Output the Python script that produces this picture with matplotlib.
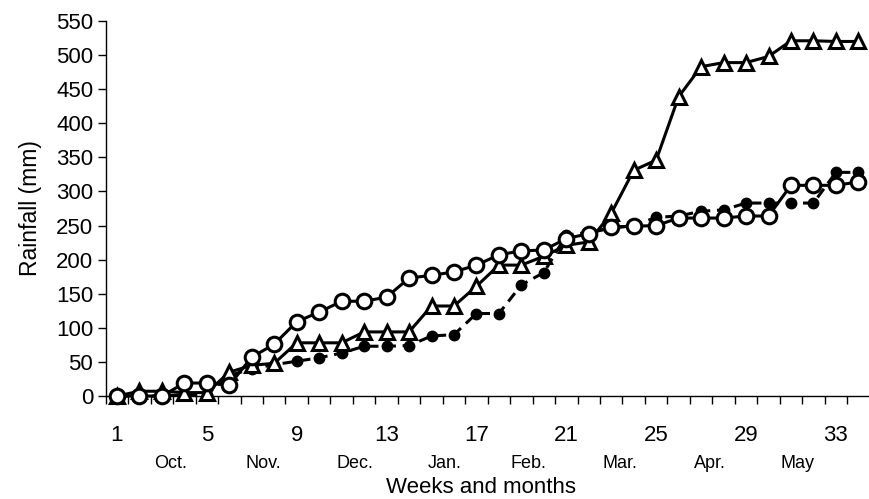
import numpy as np
import matplotlib
matplotlib.use("Agg")
from matplotlib import pyplot as plt

plt.rcParams['font.family'] = ['Liberation Sans', 'DejaVu Sans']

weeks = np.arange(1, 35)

# cumulative rainfall (mm)
circles = [0, 0, 0, 19, 19, 16, 57, 76, 109, 123, 139, 139, 145, 173, 177, 182, 192, 207,
           213, 214, 231, 238, 248, 249, 250, 261, 261, 261, 264, 264, 309, 309, 309, 314]
triangles = [0, 7, 7, 5, 5, 35, 45, 48, 78, 78, 78, 94, 94, 94, 132, 132, 161, 192,
             192, 205, 221, 226, 268, 331, 346, 439, 483, 489, 489, 498, 521, 521, 520, 520]
dots = [0, 0, 0, 2, 2, 30, 40, 46, 51, 56, 63, 73, 73, 74, 88, 90, 121, 121,
        163, 181, 236, 240, 246, 250, 262, 264, 271, 273, 283, 283, 283, 283, 328, 328]

week_labels = [1, 5, 9, 13, 17, 21, 25, 29, 33]
months = ['Oct.', 'Nov.', 'Dec.', 'Jan.', 'Feb.', 'Mar.', 'Apr.', 'May']
month_pos = [3.4, 7.5, 11.6, 15.6, 19.3, 23.4, 27.4, 31.3]

fig = plt.figure(figsize=(8.69, 4.99), dpi=100)
ax = fig.add_axes([0.1217, 0.2064, 0.879, 0.7515])

ax.plot(weeks, dots, color='black', lw=2.2, ls=(0, (3.5, 2.2)), marker='o', ms=7.5,
        mfc='black', mec='black', clip_on=False, zorder=3)
ax.plot(weeks, triangles, color='black', lw=2.2, marker='^', ms=10, mfc='white',
        mec='black', mew=2.2, clip_on=False, zorder=4)
ax.plot(weeks, circles, color='black', lw=2.2, marker='o', ms=10.5, mfc='white',
        mec='black', mew=2.2, clip_on=False, zorder=5)

ax.set_xlim(0.5, 34.5)
ax.set_ylim(0, 550)
ax.set_yticks(np.arange(0, 551, 50))
ax.tick_params(axis='y', direction='out', length=6, width=1, pad=3, labelsize=16)

# tick marks between weeks, labels every 4th week
ax.set_xticks(np.arange(0.5, 35, 1))
ax.set_xticklabels([])
ax.set_xticks(week_labels, minor=True)
ax.set_xticklabels([str(w) for w in week_labels], minor=True)
ax.tick_params(axis='x', which='major', direction='out', length=6, width=1)
ax.tick_params(axis='x', which='minor', length=0, pad=21, labelsize=16)

for m, p in zip(months, month_pos):
    ax.text(p, -0.18, m, transform=ax.get_xaxis_transform(), ha='center', va='center',
            fontsize=13)

ax.spines['top'].set_visible(False)
ax.spines['right'].set_visible(False)
ax.spines['left'].set_linewidth(1)
ax.spines['bottom'].set_linewidth(1)

ax.set_ylabel('Rainfall (mm)', fontsize=16.5, labelpad=10)
ax.text(17.2, -0.245, 'Weeks and months', transform=ax.get_xaxis_transform(),
        ha='center', va='center', fontsize=16)

fig.savefig('out.png', dpi=100)
